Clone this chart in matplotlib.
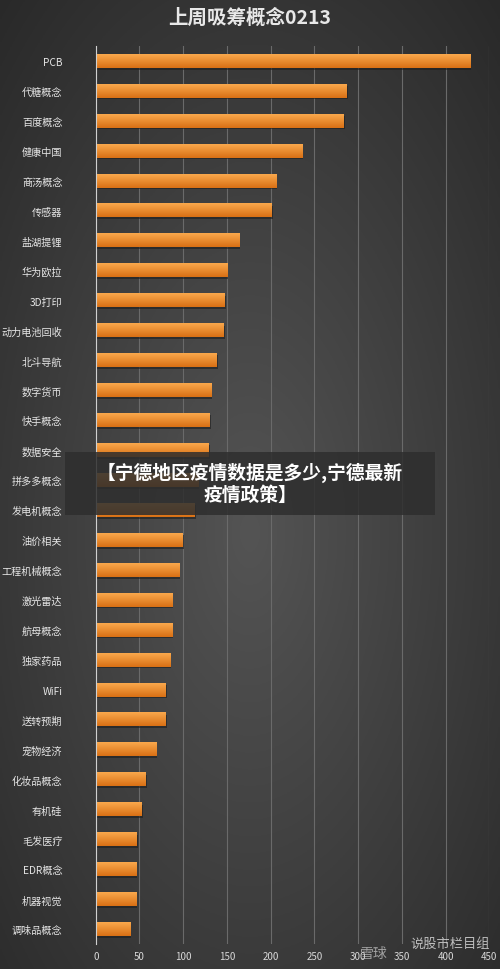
import numpy as np
import matplotlib
matplotlib.use("Agg")
import matplotlib.pyplot as plt
from matplotlib.patches import Rectangle

plt.rcParams['font.family'] = ['Noto Sans CJK SC', 'DejaVu Sans']

categories = ["PCB", "代糖概念", "百度概念", "健康中国", "商汤概念", "传感器", "盐湖提锂",
              "华为欧拉", "3D打印", "动力电池回收", "北斗导航", "数字货币", "快手概念",
              "数据安全", "拼多多概念", "发电机概念", "油价相关", "工程机械概念", "激光雷达",
              "航母概念", "独家药品", "WiFi", "送转预期", "宠物经济", "化妆品概念", "有机硅",
              "毛发医疗", "EDR概念", "机器视觉", "调味品概念"]
values = [428, 287, 283, 236, 206, 201, 164, 150, 147, 146, 138, 132, 130, 129, 117,
          113, 99, 95, 87, 87, 85, 80, 80, 69, 57, 52, 46.5, 46, 46, 39]
xticks = [0, 50, 100, 150, 200, 250, 300, 350, 400, 450]
title = "上周吸筹概念0213"
banner = "【宁德地区疫情数据是多少,宁德最新\n疫情政策】"

fig = plt.figure(figsize=(5, 9.7), dpi=100)

# background radial gradient
bg = fig.add_axes([0, 0, 1, 1], zorder=-10)
yy, xx = np.mgrid[0:1:400j, 0:1:200j]
r = np.sqrt(((xx - 0.5) / 0.75) ** 2 + ((yy - 0.45) / 0.75) ** 2)
shade = np.clip(0.33 - 0.17 * r, 0.15, 0.35)
img = np.dstack([shade, shade, shade])
bg.imshow(img, extent=[0, 1, 0, 1], aspect='auto', origin='lower')
bg.axis('off')

ax = fig.add_axes([0.1915, 0.0255, 0.787, 0.926])
ax.set_facecolor('none')
n = len(categories)
ypos = np.arange(n)
h = 0.45

grad = np.linspace(0, 1, 50).reshape(-1, 1)
top = np.array([0.98, 0.66, 0.30])
bot = np.array([0.85, 0.44, 0.08])
for y, v in zip(ypos, values):
    ax.add_patch(Rectangle((0, y - h / 2 + 0.06), v + 1.5, h, facecolor='#1e1e1e',
                           alpha=0.6, edgecolor='none', zorder=2))
    col = top[None, :] * (1 - grad) + bot[None, :] * grad
    col = col[:, None, :]
    ax.imshow(col, extent=[0, v, y + h / 2, y - h / 2], aspect='auto', zorder=3,
              interpolation='bilinear')
ax.set_xlim(0, 450)
ax.set_ylim(n - 0.5, -0.5)

ax.set_yticks(ypos)
ax.set_yticklabels(categories, fontsize=7.3, color='#e6e6e6')
ax.set_xticks(xticks)
ax.set_xticklabels([str(t) for t in xticks], fontsize=7, color='#d8d8d8')
ax.tick_params(axis='y', length=0, pad=24)
ax.tick_params(axis='x', length=0, pad=5)
ax.grid(axis='x', color='#6a6a6a', linewidth=0.8, zorder=0)
ax.set_axisbelow(True)
for s in ['top', 'right', 'bottom']:
    ax.spines[s].set_visible(False)
ax.spines['left'].set_color('#d0d0d0')
ax.spines['left'].set_linewidth(0.8)
ax.spines['left'].set_zorder(5)

fig.text(0.5, 0.981, title, ha='center', va='center', fontsize=14,
         fontweight='bold', color='#e8e8e8')

# overlay banner
fig.patches.append(Rectangle((0.13, 0.468), 0.74, 0.0655, transform=fig.transFigure,
                             facecolor='#2e2e2e', alpha=0.85, edgecolor='none', zorder=20))
fig.text(0.5, 0.5015, banner, ha='center', va='center', fontsize=13.5, fontweight='bold',
         color='white', linespacing=1.2, zorder=21)

# watermark
fig.text(0.72, 0.0165, "雪球", ha='left', va='center', fontsize=10, color='#cfcfcf',
         alpha=0.7, zorder=21)
fig.text(0.82, 0.026, "说股市栏目组", ha='left', va='center', fontsize=9.5,
         color='#e0e0e0', alpha=0.8, zorder=21)

fig.savefig("out.png", dpi=100)
